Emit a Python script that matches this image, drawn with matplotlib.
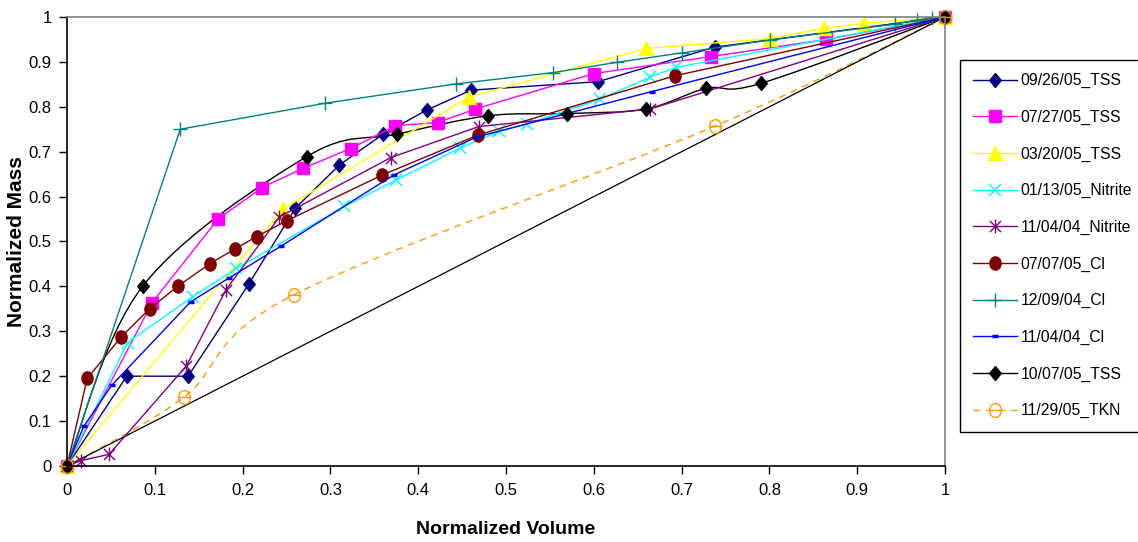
import matplotlib
matplotlib.use("Agg")
import matplotlib.pyplot as plt
from matplotlib.path import Path
from matplotlib.patches import PathPatch
from matplotlib.lines import Line2D
from matplotlib.ticker import MultipleLocator, FuncFormatter
from matplotlib.transforms import Affine2D

# normalized volume / normalized mass per event
vol_0926_tss = [0, 0.068, 0.138, 0.207, 0.26, 0.31, 0.36, 0.41, 0.46, 0.605, 0.738, 1]
mass_0926_tss = [0, 0.20, 0.20, 0.405, 0.574, 0.67, 0.739, 0.793, 0.837, 0.856, 0.933, 1]

vol_0727_tss = [0, 0.097, 0.172, 0.222, 0.269, 0.323, 0.374, 0.422, 0.465, 0.60, 0.734, 0.865, 1]
mass_0727_tss = [0, 0.364, 0.55, 0.62, 0.663, 0.707, 0.758, 0.765, 0.795, 0.874, 0.912, 0.95, 1]

vol_0320_tss = [0, 0.246, 0.458, 0.66, 0.801, 0.862, 0.908, 1]
mass_0320_tss = [0, 0.572, 0.822, 0.93, 0.952, 0.975, 0.986, 1]

vol_0113_nitrite = [0, 0.069, 0.143, 0.193, 0.316, 0.375, 0.448, 0.492, 0.524, 0.607, 0.664, 0.694, 1]
mass_0113_nitrite = [0, 0.275, 0.377, 0.44, 0.578, 0.637, 0.708, 0.745, 0.762, 0.817, 0.866, 0.888, 1]

vol_1104_nitrite = [0, 0.016, 0.048, 0.136, 0.181, 0.242, 0.369, 0.469, 0.664, 1]
mass_1104_nitrite = [0, 0.012, 0.026, 0.223, 0.392, 0.555, 0.687, 0.756, 0.795, 1]

vol_0707_cl = [0, 0.023, 0.062, 0.094, 0.126, 0.163, 0.191, 0.216, 0.25, 0.359, 0.468, 0.692, 1]
mass_0707_cl = [0, 0.195, 0.288, 0.35, 0.40, 0.451, 0.483, 0.511, 0.546, 0.648, 0.737, 0.869, 1]

vol_1209_cl = [0, 0.129, 0.294, 0.443, 0.553, 0.626, 0.70, 0.801, 0.943, 0.968, 0.985, 1]
mass_1209_cl = [0, 0.75, 0.808, 0.851, 0.876, 0.899, 0.92, 0.949, 0.984, 0.993, 0.998, 1]

vol_1104_cl = [0, 0.019, 0.051, 0.141, 0.184, 0.244, 0.372, 0.467, 0.666, 1]
mass_1104_cl = [0, 0.088, 0.18, 0.366, 0.418, 0.49, 0.648, 0.733, 0.834, 1]

vol_1007_tss = [0, 0.086, 0.273, 0.376, 0.48, 0.569, 0.659, 0.728, 0.79, 1]
mass_1007_tss = [0, 0.40, 0.689, 0.739, 0.78, 0.785, 0.795, 0.841, 0.852, 1]

vol_1129_tkn = [0, 0.133, 0.258, 0.738, 1]
mass_1129_tkn = [0, 0.153, 0.381, 0.757, 1]

# 1:1 reference line
vol_ref = [0, 1]
mass_ref = [0, 1]

labels = ["09/26/05_TSS", "07/27/05_TSS", "03/20/05_TSS", "01/13/05_Nitrite",
          "11/04/04_Nitrite", "07/07/05_Cl", "12/09/04_Cl", "11/04/04_Cl",
          "10/07/05_TSS", "11/29/05_TKN"]

plt.rcParams["font.family"] = ["Liberation Sans", "DejaVu Sans"]

# custom marker shapes (Excel-ish)
diamond = Path([(0, 1), (0.83, 0), (0, -1), (-0.83, 0), (0, 1)], closed=True)
asterisk = Path([(-1, -1), (1, 1), (-1, 1), (1, -1), (0, -1.25), (0, 1.25)],
                [Path.MOVETO, Path.LINETO] * 3)
ellipse = Path.unit_circle().transformed(Affine2D().scale(0.85, 1))
ominus = Path.make_compound_path(Path.unit_circle().transformed(Affine2D().scale(0.85, 1)),
                                 Path([(-0.85, 0), (0.85, 0)]))


def smooth_path(x, y):
    """Catmull-Rom style bezier through the points (Excel 'smoothed line')."""
    pts = list(zip(x, y))
    verts = [pts[0]]
    codes = [Path.MOVETO]
    n = len(pts)
    for i in range(n - 1):
        p0 = pts[i - 1] if i > 0 else pts[i]
        p1, p2 = pts[i], pts[i + 1]
        p3 = pts[i + 2] if i + 2 < n else pts[i + 1]
        c1 = (p1[0] + (p2[0] - p0[0]) / 6, p1[1] + (p2[1] - p0[1]) / 6)
        c2 = (p2[0] - (p3[0] - p1[0]) / 6, p2[1] - (p3[1] - p1[1]) / 6)
        verts += [c1, c2, p2]
        codes += [Path.CURVE4] * 3
    return Path(verts, codes)


fig = plt.figure(figsize=(11.38, 5.42), dpi=100)
ax = fig.add_axes([67 / 1138, 1 - 466 / 542, 878 / 1138, 449 / 542])

ax.plot(vol_ref, mass_ref, color="black", lw=0.9)

series = [
    (vol_0926_tss, mass_0926_tss, dict(color="#000080", marker=diamond, ms=10, mfc="#000080"), False, "-"),
    (vol_0727_tss, mass_0727_tss, dict(color="#FF00FF", marker="s", ms=8.5, mfc="#FF00FF"), False, "-"),
    (vol_0320_tss, mass_0320_tss, dict(color="#FFFF00", marker="^", ms=9.5, mfc="#FFFF00"), False, "-"),
    (vol_0113_nitrite, mass_0113_nitrite, dict(color="#00FFFF", marker="x", ms=8, mew=1.1), False, "-"),
    (vol_1104_nitrite, mass_1104_nitrite, dict(color="#800080", marker=asterisk, ms=10, mew=1.0), False, "-"),
    (vol_0707_cl, mass_0707_cl, dict(color="#800000", marker=ellipse, ms=9.5, mfc="#800000"), False, "-"),
    (vol_1209_cl, mass_1209_cl, dict(color="#008080", marker="+", ms=10, mew=1.0), False, "-"),
    (vol_1104_cl, mass_1104_cl, dict(color="#0000FF", marker="_", ms=5, mew=2.5), False, "-"),
    (vol_1007_tss, mass_1007_tss, dict(color="black", marker=diamond, ms=10, mfc="black"), True, "-"),
    (vol_1129_tkn, mass_1129_tkn, dict(color="#FF9900", marker=ominus, ms=10, mfc="none", mew=1.0), True, (0, (5, 4))),
]

handles = []
for x, y, style, smooth, ls in series:
    color = style["color"]
    if smooth:
        ax.add_patch(PathPatch(smooth_path(x, y), fill=False, edgecolor=color,
                               lw=1.0, linestyle=ls))
        ax.plot(x, y, ls="none", clip_on=False, **style)
    else:
        ax.plot(x, y, ls=ls, lw=1.0, clip_on=False, **style)
    handles.append(Line2D([], [], ls=ls, lw=1.0, **style))

ax.set_xlim(0, 1)
ax.set_ylim(0, 1)
ax.xaxis.set_major_locator(MultipleLocator(0.1))
ax.yaxis.set_major_locator(MultipleLocator(0.1))
fmt = FuncFormatter(lambda v, p: f"{v:.1f}".rstrip("0").rstrip(".") if v else "0")
ax.xaxis.set_major_formatter(fmt)
ax.yaxis.set_major_formatter(fmt)
ax.tick_params(direction="out", length=6, width=1, labelsize=12, pad=6, colors="black")
ax.tick_params(axis="y", pad=5)

for side in ("left", "bottom"):
    ax.spines[side].set_color("black")
    ax.spines[side].set_linewidth(1.2)
for side in ("top", "right"):
    ax.spines[side].set_color("#808080")
    ax.spines[side].set_linewidth(1.2)

ax.set_xlabel("Normalized Volume", fontsize=14, fontweight="bold")
ax.xaxis.set_label_coords(0.5, -(530 - 466) / 449)
ax.xaxis.label.set_verticalalignment("center")
ax.set_ylabel("Normalized Mass", fontsize=15, fontweight="bold")
ax.yaxis.set_label_coords(-(67 - 16) / 878, 0.5)
ax.yaxis.label.set_verticalalignment("center")

leg = fig.legend(handles, labels, loc="upper left",
                 bbox_to_anchor=(960 / 1138, 1 - 60 / 542), bbox_transform=fig.transFigure,
                 fontsize=11.3, frameon=True, fancybox=False, edgecolor="black",
                 framealpha=1, borderpad=0.85, labelspacing=1.37, handlelength=2.75,
                 handletextpad=0.25, borderaxespad=0)
leg.get_frame().set_linewidth(1.0)

fig.savefig("out.png", dpi=100)
plt.close(fig)
